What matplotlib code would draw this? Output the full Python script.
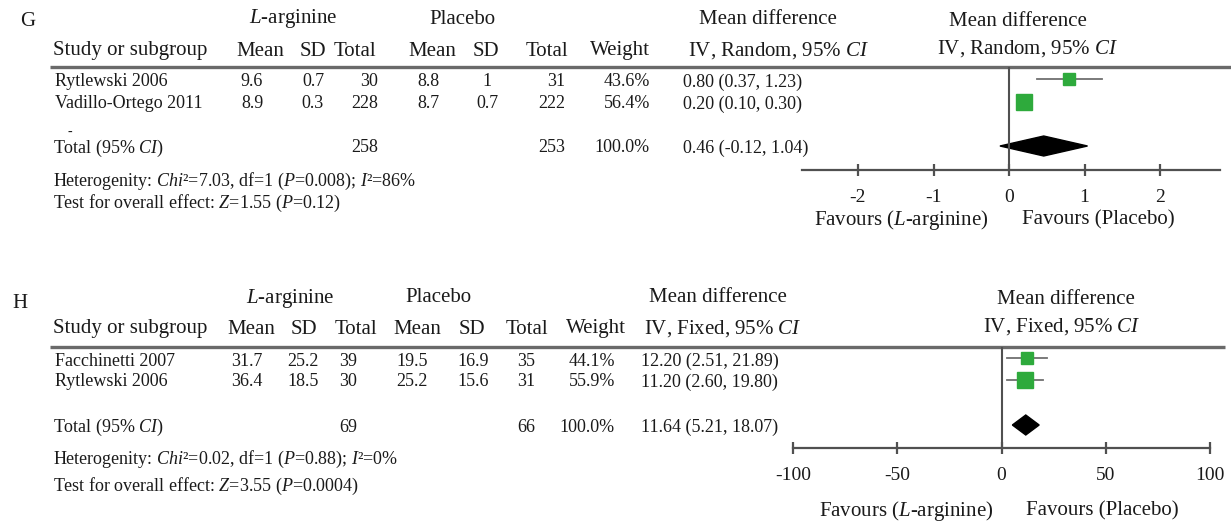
import matplotlib
matplotlib.use('Agg')
import matplotlib.pyplot as plt
from matplotlib.patches import Polygon

plt.rcParams['font.family'] = ['Liberation Serif', 'DejaVu Serif']
plt.rcParams['mathtext.fontset'] = 'custom'
plt.rcParams['mathtext.rm'] = 'Liberation Serif'
plt.rcParams['mathtext.it'] = 'Liberation Serif:italic'
plt.rcParams['mathtext.bf'] = 'Liberation Serif:bold'

# ---------------- data: panel G ----------------
g_studies = ['Rytlewski 2006', 'Vadillo-Ortego 2011']
g_arg_mean = [9.6, 8.9]
g_arg_sd = [0.7, 0.3]
g_arg_n = [30, 228]
g_pla_mean = [8.8, 8.7]
g_pla_sd = [1.0, 0.7]
g_pla_n = [31, 222]
g_weight = [43.6, 56.4]
g_md = [0.80, 0.20]
g_lo = [0.37, 0.10]
g_hi = [1.23, 0.30]
g_tot_arg, g_tot_pla = 258, 253
g_tot_md, g_tot_lo, g_tot_hi = 0.46, -0.12, 1.04
g_ticks = [-2, -1, 0, 1, 2]
g_method = 'IV, Random, 95% $\\mathit{CI}$'
g_het = 'Heterogenity: $\\mathit{Chi}$\u00b2=7.03, df=1 ($\\mathit{P}$=0.008); $\\mathit{I}$\u00b2=86%'
g_test = 'Test for overall effect: $\\mathit{Z}$=1.55 ($\\mathit{P}$=0.12)'

# ---------------- data: panel H ----------------
h_studies = ['Facchinetti 2007', 'Rytlewski 2006']
h_arg_mean = [31.7, 36.4]
h_arg_sd = [25.2, 18.5]
h_arg_n = [39, 30]
h_pla_mean = [19.5, 25.2]
h_pla_sd = [16.9, 15.6]
h_pla_n = [35, 31]
h_weight = [44.1, 55.9]
h_md = [12.20, 11.20]
h_lo = [2.51, 2.60]
h_hi = [21.89, 19.80]
h_tot_arg, h_tot_pla = 69, 66
h_tot_md, h_tot_lo, h_tot_hi = 11.64, 5.21, 18.07
h_ticks = [-100, -50, 0, 50, 100]
h_method = 'IV, Fixed, 95% $\\mathit{CI}$'
h_het = 'Heterogenity: $\\mathit{Chi}$\u00b2=0.02, df=1 ($\\mathit{P}$=0.88); $\\mathit{I}$\u00b2=0%'
h_test = 'Test for overall effect: $\\mathit{Z}$=3.55 ($\\mathit{P}$=0.0004)'

col_headers = ['Mean', 'SD', 'Total', 'Mean', 'SD', 'Total', 'Weight']

W, H = 1231, 523
fig = plt.figure(figsize=(W / 100, H / 100), dpi=100)
bg = fig.add_axes([0, 0, 1, 1])
bg.set_xlim(0, W)
bg.set_ylim(H, 0)
bg.axis('off')

HDR = 15
BODY = 13
TICK = 14
TXT = '#1a1a1a'
LINE = '#505050'
GREEN = '#2eaa3c'


def t(x, y, s, size=BODY, ha='left', va='center'):
    bg.text(x, y, s, fontsize=size, ha=ha, va=va, color=TXT)


def fmt(v):
    return '{:g}'.format(v)


def panel(L, studies, am, asd, an, pm, psd, pn, wt, md, lo, hi,
          tot_a, tot_p, tmd, tlo, thi, ticks, method, het, test, xlim):
    # panel letter and column headers
    t(L['letter_x'], L['letter_y'], L['letter'], size=HDR)
    t(L['grp_x'][0], L['h1'], '$\\mathit{L}$-arginine', size=HDR, ha='center')
    t(L['grp_x'][1], L['h1'], 'Placebo', size=HDR, ha='center')
    t(L['grp_x'][2], L['h1'], 'Mean difference', size=HDR, ha='center')
    t(L['rt1'][0], L['rt1'][1], 'Mean difference', size=HDR, ha='center')
    t(L['name_x'], L['h2'], 'Study or subgroup', size=HDR)
    for x, s in zip(L['hdr_x'], col_headers):
        t(x, L['h2'], s, size=HDR, ha='center')
    t(L['md_c'], L['h2'], method, size=HDR, ha='center')
    t(L['rt2'][0], L['rt2'][1], method, size=HDR, ha='center')
    bg.plot([50, L['line_end']], [L['hline'], L['hline']], color='#6a6a6a', lw=2.4,
            solid_capstyle='butt')

    # study rows
    for i, name in enumerate(studies):
        y = L['rows'][i]
        t(L['name_x'] + 2, y, name)
        t(L['c_am'], y, fmt(am[i]), ha='center')
        t(L['c_asd'], y, fmt(asd[i]), ha='center')
        t(L['c_an'], y, str(an[i]), ha='right')
        t(L['c_pm'], y, fmt(pm[i]), ha='center')
        t(L['c_psd'], y, fmt(psd[i]), ha='center')
        t(L['c_pn'], y, str(pn[i]), ha='right')
        t(L['c_w'], y, '{:.1f}%'.format(wt[i]), ha='right')
        t(L['c_ci'], y, '{:.2f} ({:.2f}, {:.2f})'.format(md[i], lo[i], hi[i]))
    yt = L['total']
    t(L['name_x'], yt, 'Total (95% $\\mathit{CI}$)')
    t(L['c_an'], yt, str(tot_a), ha='right')
    t(L['c_pn'], yt, str(tot_p), ha='right')
    t(L['c_w'], yt, '100.0%', ha='right')
    t(L['c_ci'], yt, '{:.2f} ({:.2f}, {:.2f})'.format(tmd, tlo, thi))
    t(L['name_x'], L['het'], het)
    t(L['name_x'], L['test'], test)

    # forest plot axes (y in pixel units, inverted)
    x0, x1, ytop, ybot = L['fx0'], L['fx1'], L['hline'], L['axis_y']
    ax = fig.add_axes([x0 / W, 1 - ybot / H, (x1 - x0) / W, (ybot - ytop) / H])
    ax.set_xlim(xlim)
    ax.set_ylim(ybot, ytop)
    ax.patch.set_alpha(0)
    for s in ['top', 'left', 'right']:
        ax.spines[s].set_visible(False)
    ax.spines['bottom'].set_color(LINE)
    ax.spines['bottom'].set_linewidth(1.6)
    ax.set_yticks([])
    ax.set_xticks(ticks)
    ax.set_xticklabels([str(v) for v in ticks])
    ax.tick_params(axis='x', direction='inout', length=9, width=1.6, color=LINE,
                   labelsize=TICK, labelcolor=TXT, pad=L['tick_pad'])
    ax.axvline(0, color=LINE, lw=1.5)
    for i in range(len(studies)):
        y = L['mrows'][i]
        ax.plot([lo[i], hi[i]], [y, y], color='#707070', lw=1.3, clip_on=False)
        ax.plot([md[i]], [y], marker='s', ms=wt[i] * 0.21, color=GREEN, mec=GREEN,
                clip_on=False)
    yd = L['mtotal']
    hh = 10
    ax.add_patch(Polygon([[tlo, yd], [tmd, yd - hh], [thi, yd], [tmd, yd + hh]],
                         closed=True, facecolor='black', edgecolor='black', clip_on=False))
    t(L['fav_l'], L['fav_y'], 'Favours ($\\mathit{L}$-arginine)', size=HDR, ha='center')
    t(L['fav_r'], L['fav_y'], 'Favours (Placebo)', size=HDR, ha='center')


LG = dict(letter='G', letter_x=20, letter_y=22, h1=19, h2=51, hline=67,
          grp_x=[293, 462, 768], rt1=(1018, 22), rt2=(1027, 49), md_c=778,
          hdr_x=[260, 313, 355, 432, 486, 547, 620],
          line_end=1231, name_x=53, rows=[82, 104], total=148, het=181, test=203,
          mrows=[79, 102], mtotal=146,
          c_am=252, c_asd=313, c_an=378, c_pm=428, c_psd=487, c_pn=565, c_w=650,
          c_ci=683, fx0=802, fx1=1220, axis_y=170, tick_pad=9,
          fav_l=901, fav_r=1098, fav_y=220)
LH = dict(letter='H', letter_x=12, letter_y=303, h1=298, h2=329, hline=347,
          grp_x=[290, 438, 718], rt1=(1066, 300), rt2=(1062, 327), md_c=723,
          hdr_x=[251, 304, 356, 417, 472, 527, 596],
          line_end=1225, name_x=53, rows=[361, 382], total=427, het=459, test=486,
          mrows=[358, 380], mtotal=425,
          c_am=247, c_asd=303, c_an=357, c_pm=412, c_psd=473, c_pn=535, c_w=615,
          c_ci=641, fx0=793, fx1=1210, axis_y=448, tick_pad=9,
          fav_l=906, fav_r=1102, fav_y=511)

g_xlim = ((802 - 1009) / 75.5, (1220 - 1009) / 75.5)
panel(LG, g_studies, g_arg_mean, g_arg_sd, g_arg_n, g_pla_mean, g_pla_sd, g_pla_n,
      g_weight, g_md, g_lo, g_hi, g_tot_arg, g_tot_pla, g_tot_md, g_tot_lo, g_tot_hi,
      g_ticks, g_method, g_het, g_test, g_xlim)
t(67, 132, '-', size=10)
panel(LH, h_studies, h_arg_mean, h_arg_sd, h_arg_n, h_pla_mean, h_pla_sd, h_pla_n,
      h_weight, h_md, h_lo, h_hi, h_tot_arg, h_tot_pla, h_tot_md, h_tot_lo, h_tot_hi,
      h_ticks, h_method, h_het, h_test, (-100, 100))

fig.savefig('out.png', dpi=100)
